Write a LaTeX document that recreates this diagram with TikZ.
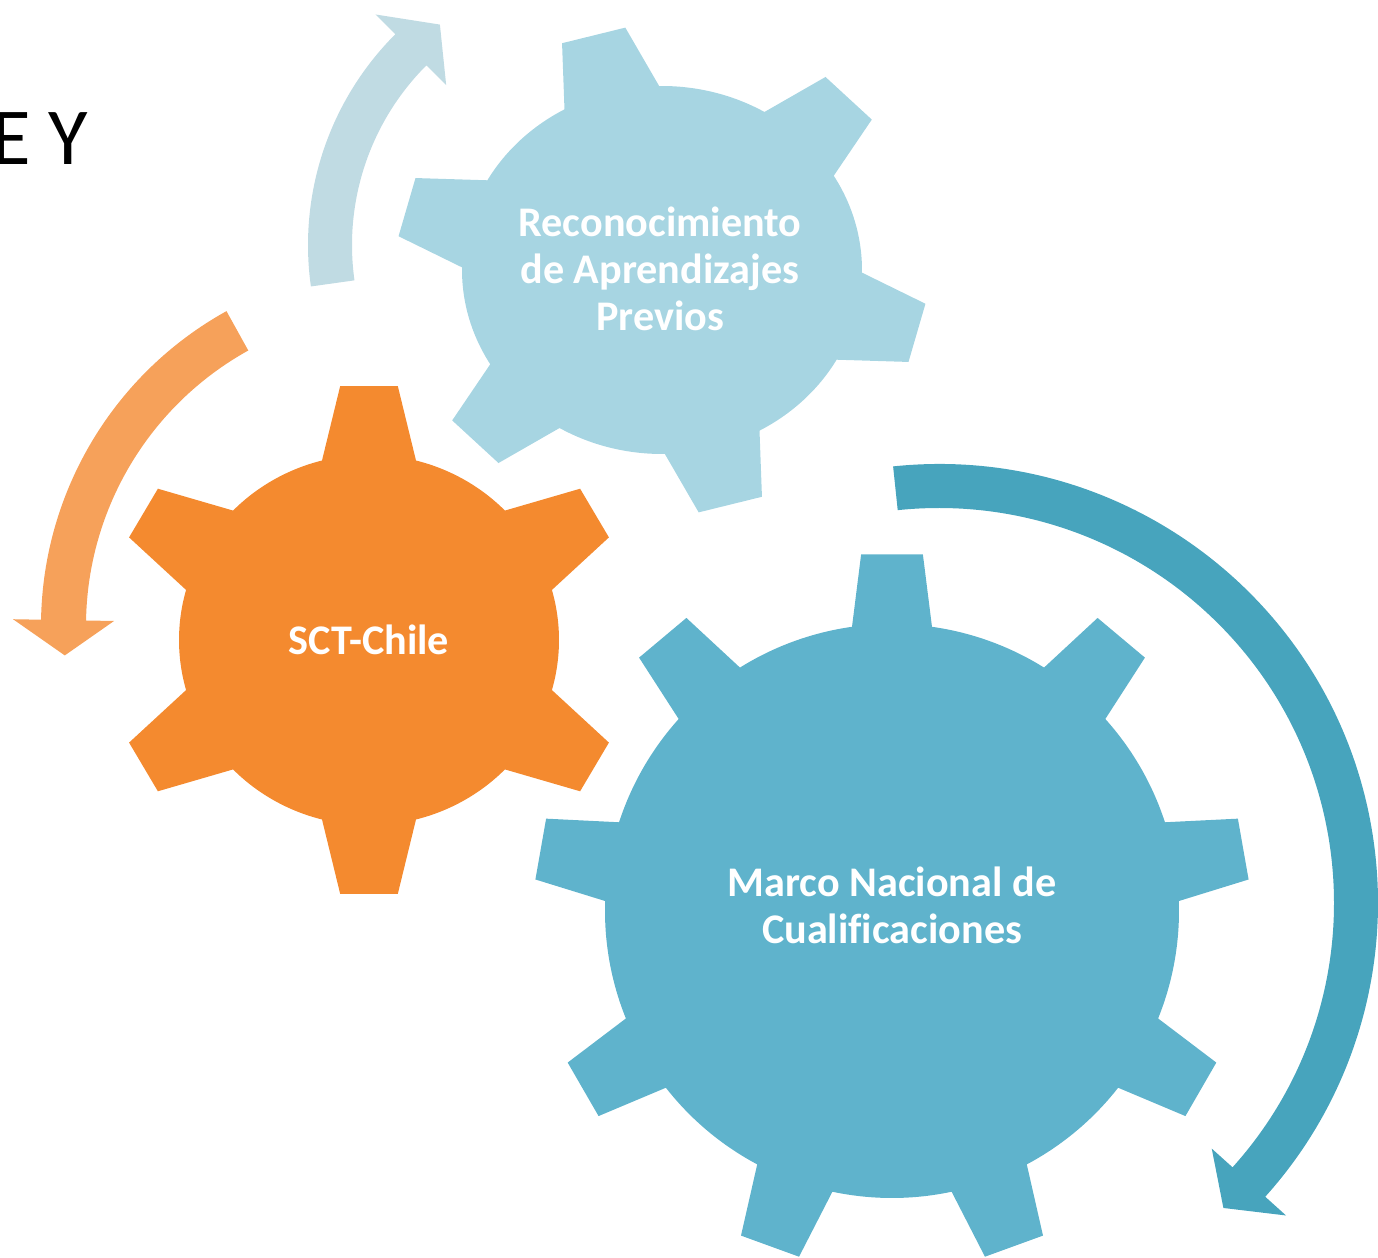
\documentclass[tikz,border=0pt]{standalone}
\usepackage{fontspec}
\setmainfont{Carlito}[Ligatures=NoCommon]
\usetikzlibrary{positioning}

\definecolor{gearlight}{HTML}{A7D5E2}
\definecolor{gearorange}{HTML}{F48A2F}
\definecolor{gearteal}{HTML}{5FB3CC}
\definecolor{arrowlight}{HTML}{C0DBE3}
\definecolor{arroworange}{HTML}{F6A15A}
\definecolor{arrowteal}{HTML}{47A4BD}

\tikzset{
    gearlabel/.style={
        text=white,
        align=center,
        inner sep=0pt,
        font=\fontsize{12}{13.4}\selectfont\bfseries
    },
    titletext/.style={
        text=black,
        inner sep=0pt,
        font=\fontsize{23}{26}\selectfont
    }
}

% gear: options, centre, teeth, first tooth angle, body radius, tip radius, root half-width, tip half-width
\newcommand{\gear}[8]{%
  \begin{scope}[shift={#2}, #1]
    \pgfmathsetmacro{\rootang}{asin(#7/#5)}
    \pgfmathsetmacro{\tipang}{atan(#8/#6)}
    \pgfmathsetmacro{\pitch}{360/#3}
    \fill ({#4-\rootang}:#5)
      \foreach \k in {1,...,#3}{
        -- ({#4+(\k-1)*\pitch-\tipang}:#6)
        -- ({#4+(\k-1)*\pitch+\tipang}:#6)
        -- ({#4+(\k-1)*\pitch+\rootang}:#5)
        arc[start angle={#4+(\k-1)*\pitch+\rootang}, end angle={#4+\k*\pitch-\rootang}, radius=#5]
      } -- cycle;
  \end{scope}}

% curved arrow: colour, centre, start angle, head angle, tip angle, inner radius, outer radius
\newcommand{\bentarrow}[7]{%
  \begin{scope}[shift={#2}]
    \fill[#1] (#3:#7) arc[start angle=#3, end angle=#4, radius=#7]
      -- (#4:{#7+28}) -- (#5:{(#6+#7)/2}) -- (#4:{#6-28}) -- (#4:#6)
      arc[start angle=#4, end angle=#3, radius=#6] -- cycle;
  \end{scope}}

\begin{document}
\begin{tikzpicture}[x=0.01cm, y=0.01cm]

    \useasboundingbox (0,0) rectangle (1378,-1258);
    \clip (0,0) rectangle (1378,-1258);

    % Title (cut off)
    \node[titletext, anchor=base east] (titulo) at (89,-165) {E Y};

    % Arrows
    \bentarrow{arrowlight}{(606,-245)}{188}{135}{127}{254}{298}
    \bentarrow{arroworange}{(401,-626)}{119}{179}{185}{315}{360}
    \bentarrow{arrowteal}{(939,-903)}{96}{-42}{-47}{395}{439}

    % Gears
    \gear{fill=gearlight, yscale=0.92}{(662,-270)}{6}{45}{200}{266}{49}{33}
    \gear{fill=gearorange, yscale=0.975}{(369,-640)}{6}{90}{190}{262}{47}{29}
    \gear{fill=gearteal}{(892,-911)}{9}{90}{287}{358}{40}{31}

    % Labels
    \node[gearlabel] (rap) at (660,-269) {Reconocimiento\\de Aprendizajes\\Previos};
    \node[gearlabel] (sct) at (369,-640) {SCT-Chile};
    \node[gearlabel] (mnc) at (892,-905) {Marco Nacional de\\Cualificaciones};

\end{tikzpicture}
\end{document}
